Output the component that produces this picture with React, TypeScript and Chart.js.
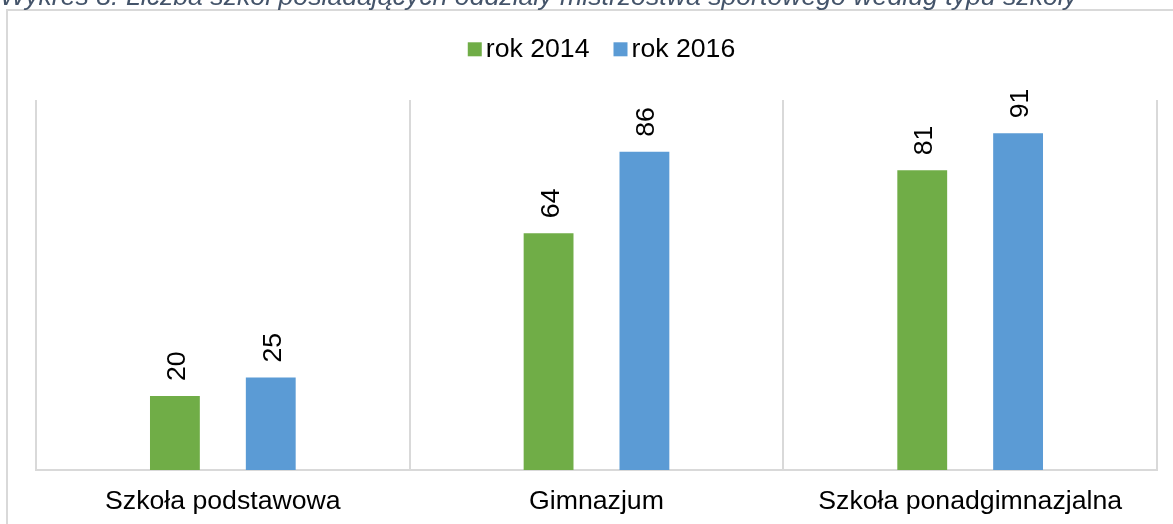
import React, { useEffect, useRef } from "react";
import { Chart, registerables } from "chart.js";

Chart.register(...registerables);

const titleText =
  "Wykres 8. Liczba szkół posiadających oddziały mistrzostwa sportowego według typu szkoły";
const categories = ["Szkoła podstawowa", "Gimnazjum", "Szkoła ponadgimnazjalna"];
const seriesNames = ["rok 2014", "rok 2016"];
const values2014 = [20, 64, 81];
const values2016 = [25, 86, 91];
const seriesColors = ["#70AD47", "#5B9BD5"];

const FONT = '"Liberation Sans", Arial, sans-serif';
const FS = 26.67;

const framePlugin = {
  id: "frame",
  beforeDraw(chart: any) {
    const ctx = chart.ctx;
    ctx.save();
    ctx.fillStyle = "#ffffff";
    ctx.fillRect(0, 0, chart.width, chart.height);
    ctx.strokeStyle = "#d9d9d9";
    ctx.lineWidth = 2;
    ctx.strokeRect(7, 10, 1400, 800);
    ctx.restore();
  },
};

const titlePlugin = {
  id: "cutTitle",
  afterDraw(chart: any) {
    const ctx = chart.ctx;
    ctx.save();
    ctx.font = `italic ${FS}px ${FONT}`;
    ctx.fillStyle = "#44546A";
    ctx.textAlign = "left";
    ctx.textBaseline = "alphabetic";
    ctx.fillText(titleText, 0, 5);
    ctx.restore();
  },
};

const legendPlugin = {
  id: "customLegend",
  afterDraw(chart: any) {
    const ctx = chart.ctx;
    ctx.save();
    ctx.font = `${FS}px ${FONT}`;
    const box = 14;
    const gap = 4;
    const itemGap = 24;
    const widths = seriesNames.map((s) => ctx.measureText(s).width);
    const total =
      widths.reduce((a, w) => a + box + gap + w, 0) + itemGap * (seriesNames.length - 1);
    let x = 601.5 - total / 2;
    const cy = 49.3;
    seriesNames.forEach((s, i) => {
      ctx.fillStyle = seriesColors[i];
      ctx.fillRect(x, cy - box / 2, box, box);
      x += box + gap;
      ctx.fillStyle = "#000000";
      ctx.textBaseline = "alphabetic";
      ctx.textAlign = "left";
      ctx.fillText(s, x, 57);
      x += widths[i] + itemGap;
    });
    ctx.restore();
  },
};

const valueLabelPlugin = {
  id: "valueLabels",
  afterDatasetsDraw(chart: any) {
    const ctx = chart.ctx;
    ctx.save();
    ctx.font = `${FS}px ${FONT}`;
    ctx.fillStyle = "#000000";
    ctx.textAlign = "left";
    ctx.textBaseline = "alphabetic";
    chart.data.datasets.forEach((ds: any, di: number) => {
      const meta = chart.getDatasetMeta(di);
      meta.data.forEach((el: any, i: number) => {
        ctx.save();
        ctx.translate(el.x + 0.5, el.y - 15);
        ctx.rotate(-Math.PI / 2);
        ctx.fillText(String(ds.data[i]), 0, FS * 0.358);
        ctx.restore();
      });
    });
    ctx.restore();
  },
};

export default function App() {
  const ref = useRef<HTMLCanvasElement | null>(null);

  useEffect(() => {
    if (!ref.current) return;
    const chart = new Chart(ref.current, {
      type: "bar",
      data: {
        labels: categories,
        datasets: [
          {
            label: seriesNames[0],
            data: values2014,
            backgroundColor: seriesColors[0],
            categoryPercentage: 0.513,
            barPercentage: 0.52,
          },
          {
            label: seriesNames[1],
            data: values2016,
            backgroundColor: seriesColors[1],
            categoryPercentage: 0.513,
            barPercentage: 0.52,
          },
        ],
      },
      options: {
        animation: false,
        responsive: false,
        maintainAspectRatio: false,
        layout: { padding: { left: 36, right: 16, top: 100, bottom: 6 } },
        plugins: {
          legend: { display: false },
          title: { display: false },
          tooltip: { enabled: false },
        },
        scales: {
          x: {
            grid: {
              display: true,
              offset: true,
              color: "#d9d9d9",
              lineWidth: 2,
              drawTicks: false,
            },
            border: { display: true, color: "#d9d9d9", width: 2 },
            ticks: {
              font: { family: FONT, size: FS },
              color: "#000000",
              padding: 16,
              maxRotation: 0,
              autoSkip: false,
            },
          },
          y: {
            display: false,
            min: 0,
            max: 100,
          },
        },
      },
      plugins: [framePlugin, titlePlugin, legendPlugin, valueLabelPlugin],
    });
    return () => chart.destroy();
  }, []);

  return (
    <div style={{ position: "fixed", left: 0, top: 0, width: 1173, height: 524, overflow: "hidden", background: "#fff" }}>
      <canvas ref={ref} width={1173} height={540} style={{ display: "block", width: 1173, height: 540 }} />
    </div>
  );
}
